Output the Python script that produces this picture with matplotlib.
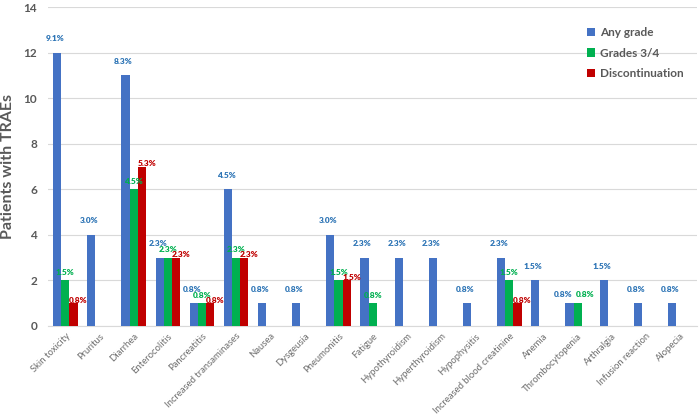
import numpy as np
import matplotlib
matplotlib.use("Agg")
import matplotlib.pyplot as plt

plt.rcParams['font.family'] = ['Lato', 'DejaVu Sans']

categories = [
    'Skin toxicity', 'Pruritus', 'Diarrhea', 'Enterocolitis', 'Pancreatitis',
    'Increased transaminases', 'Nausea', 'Dysgeusia', 'Pneumonitis', 'Fatigue',
    'Hypothyroidism', 'Hyperthyroidism', 'Hypophysitis',
    'Increased blood creatinine', 'Anemia', 'Thrombocytopenia', 'Arthralgia',
    'Infusion reaction', 'Alopecia'
]

any_grade = [12, 4, 11, 3, 1, 6, 1, 1, 4, 3, 3, 3, 1, 3, 2, 1, 2, 1, 1]
grade34 = [2, 0, 6, 3, 1, 3, 0, 0, 2, 1, 0, 0, 0, 2, 0, 1, 0, 0, 0]
discont = [1, 0, 7, 3, 1, 3, 0, 0, 2, 0, 0, 0, 0, 1, 0, 0, 0, 0, 0]

any_pct = ['9.1%', '3.0%', '8.3%', '2.3%', '0.8%', '4.5%', '0.8%', '0.8%', '3.0%',
           '2.3%', '2.3%', '2.3%', '0.8%', '2.3%', '1.5%', '0.8%', '1.5%', '0.8%', '0.8%']
g34_pct = ['1.5%', '', '4.5%', '2.3%', '0.8%', '2.3%', '', '', '1.5%',
           '0.8%', '', '', '', '1.5%', '', '0.8%', '', '', '']
disc_pct = ['0.8%', '', '5.3%', '2.3%', '0.8%', '2.3%', '', '', '1.5%',
            '', '', '', '', '0.8%', '', '', '', '', '']

blue = '#4472C4'
green = '#00B050'
red = '#C00000'
gray = '#595959'

fig = plt.figure(figsize=(7, 4.15), dpi=100)
ax = fig.add_axes([0.069, 0.2145, 0.927, 0.7685])

x = np.arange(len(categories))
w = 0.24

# (values, labels, bar colour, text colour, name, bar offset, label dy px, label dx px)
series = [
    (any_grade, any_pct, blue, '#2E75B6', 'Any grade', -w, 14, -2),
    (grade34, g34_pct, green, '#00B050', 'Grades 3/4', 0, 8, 0),
    (discont, disc_pct, red, '#C00000', 'Discontinuation', w, 3, 5),
]

for vals, labels, col, tcol, name, off, dy, dx in series:
    ax.bar(x + off, vals, width=w, color=col, label=name, zorder=3)
    for i, (v, lab) in enumerate(zip(vals, labels)):
        if not lab:
            continue
        xo, yo = dx, dy
        # blue and green alone at the same height: spread sideways
        if grade34[i] == any_grade[i] and discont[i] == 0:
            if name == 'Any grade':
                xo, yo = -6, 9
            elif name == 'Grades 3/4':
                xo, yo = 8, 9
        ax.annotate(lab, (x[i] + off, v), xytext=(xo * 0.72, yo * 0.72),
                    textcoords='offset points', ha='center', va='center',
                    fontsize=6, fontweight='heavy', color=tcol, zorder=4)

ax.set_xlim(-0.5, len(categories) - 0.5)
ax.set_ylim(0, 14)
ax.set_yticks(range(0, 15, 2))
ax.grid(axis='y', color='#D9D9D9', linewidth=0.8, zorder=0)
for s in ['top', 'right', 'left']:
    ax.spines[s].set_visible(False)
ax.spines['bottom'].set_color('#D9D9D9')
ax.tick_params(axis='both', length=0)
ax.tick_params(axis='y', labelsize=8.5, labelcolor=gray, pad=8)
for t in ax.get_yticklabels():
    t.set_fontweight('bold')

ax.set_xticks(x)
ax.set_xticklabels(categories, rotation=45, ha='right', rotation_mode='anchor',
                   fontsize=6.8, color='#6E6E6E')
ax.tick_params(axis='x', pad=4)

ax.set_ylabel('Patients with TRAEs', fontsize=11.5, fontweight='bold', color=gray, labelpad=6)

leg = ax.legend(loc='upper right', bbox_to_anchor=(0.995, 0.97), frameon=False,
                fontsize=8.5, handlelength=0.7, handleheight=0.7, handletextpad=0.4,
                labelspacing=0.8)
for t in leg.get_texts():
    t.set_color(gray)
    t.set_fontweight('bold')

fig.savefig('out.png', dpi=100)
